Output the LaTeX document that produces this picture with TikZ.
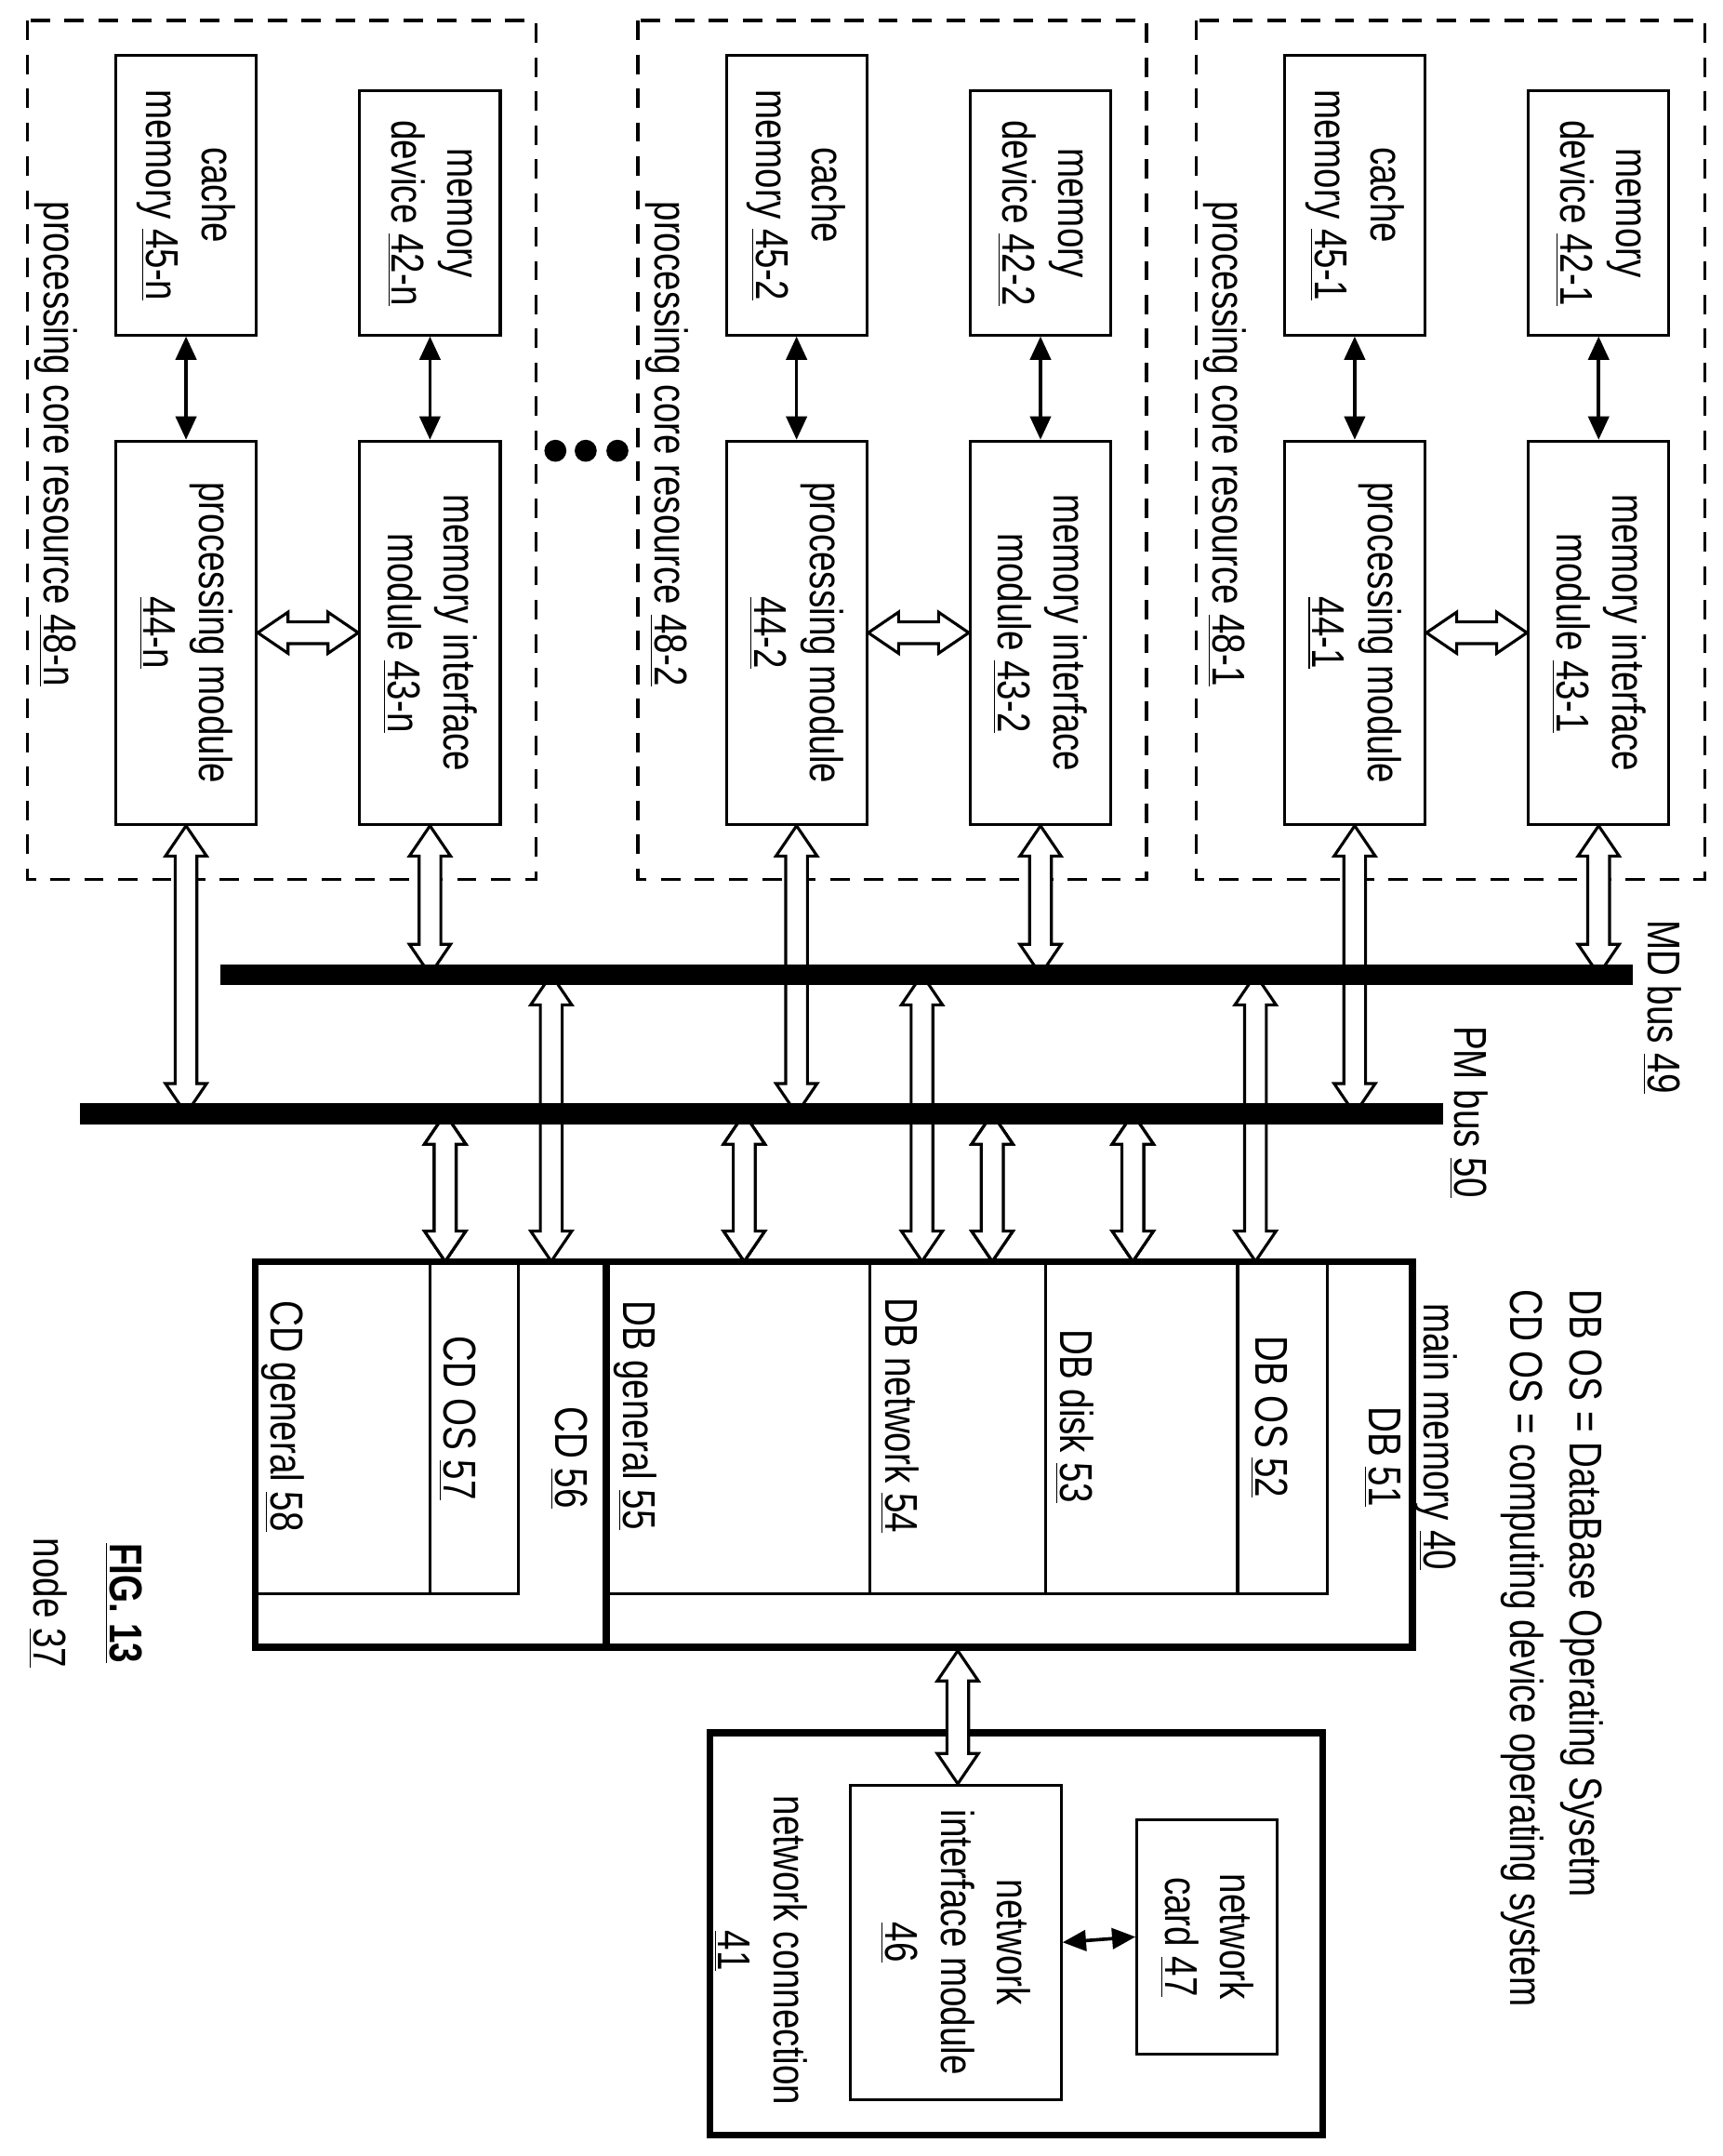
\documentclass[tikz,border=0pt]{standalone}
\usepackage{fontspec}
\setmainfont{Liberation Sans}[FakeStretch=0.78]
\usetikzlibrary{arrows.meta,calc}

% hollow double arrows, vertical (x from #1, #2 above #3) and horizontal (#1 left of #2)
\newcommand\fatv[3]{\draw[fat] let \p1=(#1), \p2=(#2), \p3=(#3) in
  (\x1,\y2) -- ({\x1+8.5pt},{\y2-12.5pt}) -- ({\x1+4.5pt},{\y2-12.5pt}) -- ({\x1+4.5pt},{\y3+12.5pt})
  -- ({\x1+8.5pt},{\y3+12.5pt}) -- (\x1,\y3) -- ({\x1-8.5pt},{\y3+12.5pt}) -- ({\x1-4.5pt},{\y3+12.5pt})
  -- ({\x1-4.5pt},{\y2-12.5pt}) -- ({\x1-8.5pt},{\y2-12.5pt}) -- cycle;}
\newcommand\fath[2]{\draw[fat] let \p1=(#1), \p2=(#2) in
  (\x1,\y1) -- ({\x1+12.5pt},{\y1+8.5pt}) -- ({\x1+12.5pt},{\y1+4.5pt}) -- ({\x2-12.5pt},{\y1+4.5pt})
  -- ({\x2-12.5pt},{\y1+8.5pt}) -- (\x2,\y1) -- ({\x2-12.5pt},{\y1-8.5pt}) -- ({\x2-12.5pt},{\y1-4.5pt})
  -- ({\x1+12.5pt},{\y1-4.5pt}) -- ({\x1+12.5pt},{\y1-8.5pt}) -- cycle;}

\begin{document}
\begin{tikzpicture}[x=0.02cm,y=-0.02cm,line join=miter,
    font=\fontsize{19}{23}\selectfont,
    box/.style={draw,line width=1.2pt,rotate=-90,align=center,inner sep=0pt,minimum height=2.04cm},
    lbl/.style={rotate=-90,align=center,inner sep=0pt},
    thinarr/.style={line width=1.4pt,{Triangle[length=0.34cm,width=0.3cm]}-{Triangle[length=0.34cm,width=0.3cm]}},
    fat/.style={line width=1.2pt,fill=white},
    bus/.style={line width=8.5pt}]

    \useasboundingbox (0,0) rectangle (1250,1564);

    % processing core resources
    \foreach \dx/\r in {0/1,-405/2,-848/n}{
        \draw[line width=1.4pt,dash pattern=on 8pt off 6pt] ({868+\dx},15) rectangle ({1237+\dx},638);
        \node[lbl] (pcr\r) at ({889+\dx},322) {processing core resource \underline{48-\r}};
        \node[box,minimum width=3.54cm] (md\r) at ({1160+\dx},154.5) {memory\\device \underline{42-\r}};
        \node[box,minimum width=4.06cm] (cm\r) at ({983+\dx},141.5) {cache\\memory \underline{45-\r}};
        \node[box,minimum width=5.56cm] (mi\r) at ({1160+\dx},459) {memory interface\\module \underline{43-\r}};
        \node[box,minimum width=5.56cm] (pm\r) at ({983+\dx},459) {processing module\\\underline{44-\r}};
        \draw[thinarr] (md\r.east) -- (mi\r.west);
        \draw[thinarr] (cm\r.east) -- (pm\r.west);
        \fath{pm\r.north}{mi\r.south}
    }
    \foreach \px in {403,425,448}
        \fill (\px,327) circle[radius=0.16cm];

    % buses
    \coordinate (md) at (160,707);
    \coordinate (pm) at (58,808);
    \foreach \r in {1,2,n}{
        \fatv{mi\r}{mi\r.east}{md}
        \fatv{pm\r}{pm\r.east}{pm}
    }

    % main memory and CD
    \node[draw,line width=2.8pt,minimum width=11.7cm,minimum height=5.6cm,inner sep=0pt] (mm) at (732.5,1055) {};
    \node[draw,line width=2.8pt,minimum width=5.1cm,minimum height=5.6cm,inner sep=0pt] (cd) at (312.5,1055) {};
    \draw[line width=1.2pt] (963,915) -- (963,1156) -- (440,1156);
    \foreach \cx in {898,759,631}
        \draw[line width=1.2pt] (\cx,915) -- (\cx,1156);
    \draw[line width=1.2pt] (376,915) -- (376,1156) -- (185,1156);
    \draw[line width=1.2pt] (312,915) -- (312,1156);

    \foreach \ax in {911,669,400}
        \fatv{\ax,0}{md}{\ax,915}
    \foreach \ax in {822,720,540,323}
        \fatv{\ax,0}{pm}{\ax,915}
    \draw[bus] (md) -- (1185,707);
    \draw[bus] (pm) -- (1047,808);

    \node[lbl,anchor=west] (mml) at (1042,945) {main memory \underline{40}};
    \node[lbl,anchor=west] (db) at (1003,1020) {DB \underline{51}};
    \node[lbl,anchor=west] (dbos) at (921,969) {DB OS \underline{52}};
    \node[lbl,anchor=west] (dbdisk) at (780,964) {DB disk \underline{53}};
    \node[lbl,anchor=west] (dbnet) at (653,941) {DB network \underline{54}};
    \node[lbl,anchor=west] (dbgen) at (461,943) {DB general \underline{55}};
    \node[lbl,anchor=west] (cdl) at (413,1020) {CD \underline{56}};
    \node[lbl,anchor=west] (cdos) at (332,969) {CD OS \underline{57}};
    \node[lbl,anchor=west] (cdgen) at (205,943) {CD general \underline{58}};

    % network connection
    \node[draw,line width=2.8pt,minimum width=8.9cm,minimum height=5.84cm,inner sep=0pt] (nc) at (737.5,1403) {};
    \node[box,minimum width=4.56cm,minimum height=3.06cm] (nim) at (693.5,1409) {network\\interface module\\\underline{46}};
    \node[box,minimum width=3.4cm] (card) at (876,1405) {network\\card \underline{47}};
    \draw[thinarr] (nim.north) -- (card.south);
    \fatv{695,0}{mm.south}{nim.west}
    \node[lbl] (ncl) at (552,1415) {network connection\\\underline{41}};

    % labels
    \node[lbl,anchor=west] (mdl) at (1206,667) {MD bus \underline{49}};
    \node[lbl,anchor=west] (pml) at (1066,744) {PM bus \underline{50}};
    \node[lbl,anchor=west] (leg1) at (1148,935) {DB OS = DataBase Operating Sysetm};
    \node[lbl,anchor=west] (leg2) at (1105,935) {CD OS = computing device operating system};
    \node[lbl] (fig) at (90,1163) {\bfseries\underline{FIG. 13}};
    \node[lbl] (nd) at (35,1163) {node \underline{37}};
\end{tikzpicture}
\end{document}
